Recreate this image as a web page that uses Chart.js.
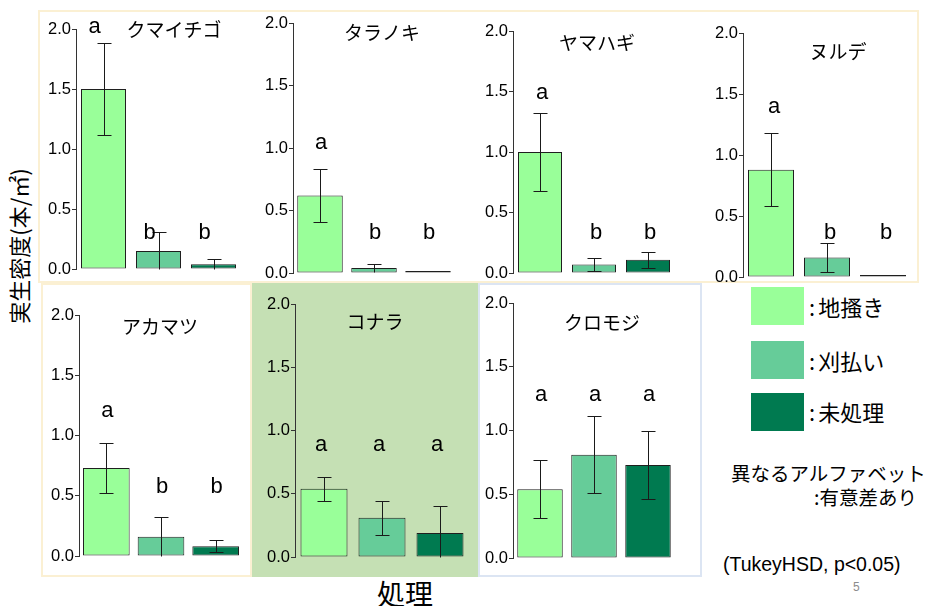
<!DOCTYPE html>
<html lang="ja">
<head>
<meta charset="utf-8">
<script src="https://cdn.jsdelivr.net/npm/chart.js@4.4.1/dist/chart.umd.min.js"></script>
<style>
  html, body { margin: 0; padding: 0; background: #ffffff; }
  body { width: 930px; height: 606px; position: relative; overflow: hidden;
         font-family: "Noto Sans CJK JP", "Liberation Sans", sans-serif; color: #000; }
  .abs { position: absolute; }
  .frame-top { left: 38px; top: 10px; width: 877px; height: 269px; border: 2px solid #fbf0d3; }
  .frame-bl  { left: 41px; top: 283px; width: 207px; height: 290px; border: 2px solid #fbf0d3; }
  .bg-konara { left: 252px; top: 283px; width: 226px; height: 294px; background: #c5e0b4; }
  .frame-kuromoji { left: 478px; top: 283px; width: 220px; height: 290px; border: 2px solid #dce5f3; }
  canvas.panel { position: absolute; }
  .swatch { position: absolute; left: 751px; width: 53px; height: 38px; }
  .legend-text { position: absolute; left: 809px; font-size: 22px; line-height: 24px; white-space: nowrap; }
  .legend-text .colon { margin-right: 3px; }
  .note { position: absolute; font-size: 19.5px; line-height: 24px; white-space: nowrap; }
  .tukey { position: absolute; left: 723px; top: 552px; font-family: "Liberation Sans", sans-serif;
           font-size: 19.5px; line-height: 24px; white-space: nowrap; }
  .page-no { position: absolute; left: 853px; top: 580px; font-family: "Liberation Sans", sans-serif;
             font-size: 12px; color: #8c8c8c; }
  .ytitle { position: absolute; left: 18px; top: 246px; font-size: 22px; white-space: nowrap;
            transform: translate(-50%, -50%) rotate(-90deg); }
  .xtitle { position: absolute; left: 405px; top: 593px; font-size: 28px; white-space: nowrap;
            transform: translate(-50%, -50%); }
</style>
</head>
<body>
<div class="abs frame-top"></div>
<div class="abs frame-bl"></div>
<div class="abs bg-konara"></div>
<div class="abs frame-kuromoji"></div>

<div class="ytitle">実生密度(本/㎡)</div>
<div class="xtitle">処理</div>

<div id="sw0" class="swatch" style="top:287px"></div>
<div id="sw1" class="swatch" style="top:341px"></div>
<div id="sw2" class="swatch" style="top:393px"></div>
<div id="lg0" class="legend-text" style="top:294px"></div>
<div id="lg1" class="legend-text" style="top:348px"></div>
<div id="lg2" class="legend-text" style="top:399px"></div>

<div class="note" style="left:731px; top:461px">異なるアルファベット</div>
<div class="note" style="left:814px; top:485px">:有意差あり</div>
<div class="tukey">(TukeyHSD, p&lt;0.05)</div>
<div class="page-no">5</div>

<script>
// Treatments (x categories) and species (one panel each)
const treatments = ['地搔き', '刈払い', '未処理'];
const species = ['クマイチゴ', 'タラノキ', 'ヤマハギ', 'ヌルデ', 'アカマツ', 'コナラ', 'クロモジ'];

// Mean seedling density (本/㎡) per treatment, in species order
const meanJikaki    = [1.50, 0.62, 1.00, 0.88, 0.73, 0.54, 0.54];
const meanKaribarai = [0.15, 0.04, 0.07, 0.16, 0.16, 0.31, 0.81];
const meanMishori   = [0.04, 0.00, 0.11, 0.00, 0.08, 0.19, 0.73];

// Standard errors
const seJikaki    = [0.38, 0.21, 0.32, 0.30, 0.21, 0.095, 0.225];
const seKaribarai = [0.16, 0.035, 0.055, 0.12, 0.16, 0.135, 0.30];
const seMishori   = [0.04, 0.00, 0.065, 0.00, 0.05, 0.21, 0.27];

// Tukey HSD groupings
const groupJikaki    = ['a', 'a', 'a', 'a', 'a', 'a', 'a'];
const groupKaribarai = ['b', 'b', 'b', 'b', 'b', 'a', 'a'];
const groupMishori   = ['b', 'b', 'b', 'b', 'b', 'a', 'a'];

// Y axis ticks
const yTicks = [0, 0.5, 1.0, 1.5, 2.0];

const fills = ['#99ff99', '#66cc99', '#007a50'];

// Page placement of each panel: y-axis x, pixel rows for 2.0 and 0.0,
// category width, bar width, title centre, rows for the group letters.
const panelLayout = [
  { x: 76,  top: 29,  bottom: 269, cat: 55.0, bar: 45,   title: [174, 30], aY: 27,  bY: 233, dx: -9 },
  { x: 293, top: 23,  bottom: 273, cat: 54.0, bar: 45.5, title: [382, 33], aY: 143, bY: 233, dx: 1 },
  { x: 513, top: 31,  bottom: 273, cat: 54.0, bar: 44,   title: [597, 43], aY: 93,  bY: 233, dx: 2 },
  { x: 743, top: 33,  bottom: 277, cat: 56.0, bar: 46,   title: [838, 52], aY: 107, bY: 233, dx: 3 },
  { x: 79,  top: 315, bottom: 556, cat: 54.5, bar: 46.5, title: [160, 327], aY: 411, bY: 487, dx: 1 },
  { x: 295, top: 304, bottom: 557, cat: 58.0, bar: 47,   title: [375, 322], aY: 445, bY: 445, dx: -3 },
  { x: 513, top: 303, bottom: 558, cat: 54.0, bar: 45.5, title: [602, 323], aY: 395, bY: 395, dx: 1 }
];

const AXIS_W = 44, PAD_T = 26, PAD_B = 12, PAD_R = 4;

// legend swatches and labels
treatments.forEach((t, i) => {
  document.getElementById('sw' + i).style.background = fills[i];
  const el = document.getElementById('lg' + i);
  const c = document.createElement('span');
  c.className = 'colon';
  c.textContent = ':';
  el.appendChild(c);
  el.appendChild(document.createTextNode(t));
});

// Error bars, group letters and species title
const panelDecor = {
  id: 'panelDecor',
  afterDatasetsDraw(chart, args, opts) {
    const ctx = chart.ctx;
    const y = chart.scales.y;
    const meta = chart.getDatasetMeta(0);
    ctx.save();
    ctx.strokeStyle = '#1a1a1a';
    ctx.lineWidth = 1;
    meta.data.forEach((el, i) => {
      const m = opts.means[i], s = opts.se[i];
      if (s <= 0) return;
      const cx = Math.round(el.x) + 0.5;
      const yt = Math.round(y.getPixelForValue(m + s)) + 0.5;
      const lowVal = m - s;
      const yb = Math.round(y.getPixelForValue(Math.max(0, lowVal))) + 0.5;
      const cap = 7;
      ctx.beginPath();
      ctx.moveTo(cx, yt); ctx.lineTo(cx, yb);
      ctx.moveTo(cx - cap, yt); ctx.lineTo(cx + cap, yt);
      if (lowVal > 0.005) { ctx.moveTo(cx - cap, yb); ctx.lineTo(cx + cap, yb); }
      ctx.stroke();
    });
    // group letters
    ctx.fillStyle = '#000';
    ctx.font = '22px "Liberation Sans", Arial, sans-serif';
    ctx.textAlign = 'center';
    ctx.textBaseline = 'middle';
    const L = opts.layout;
    meta.data.forEach((el, i) => {
      const g = opts.groups[i];
      const row = (g === 'a' ? L.aY : L.bY) - opts.originY;
      ctx.fillText(g, el.x + L.dx, row);
    });
    // species title
    ctx.font = '19px "Noto Sans CJK JP", sans-serif';
    ctx.fillText(opts.title, L.title[0] - opts.originX, L.title[1] - opts.originY);
    ctx.restore();
  }
};

species.forEach((name, k) => {
  const L = panelLayout[k];
  const canvas = document.createElement('canvas');
  canvas.className = 'panel';
  const w = Math.round(AXIS_W + 3 * L.cat + PAD_R);
  const h = Math.round(L.bottom - L.top + PAD_T + PAD_B);
  const left = L.x - AXIS_W, topPx = L.top - PAD_T;
  canvas.width = w; canvas.height = h;
  canvas.style.left = left + 'px';
  canvas.style.top = topPx + 'px';
  canvas.style.width = w + 'px';
  canvas.style.height = h + 'px';
  document.body.appendChild(canvas);

  const means = [meanJikaki[k], meanKaribarai[k], meanMishori[k]];
  const se = [seJikaki[k], seKaribarai[k], seMishori[k]];
  const groups = [groupJikaki[k], groupKaribarai[k], groupMishori[k]];

  new Chart(canvas.getContext('2d'), {
    type: 'bar',
    data: {
      labels: treatments,
      datasets: [{
        data: means,
        backgroundColor: fills,
        borderColor: '#1f1f1f',
        borderWidth: 1,
        borderSkipped: false,
        minBarLength: 2,
        barPercentage: L.bar / L.cat,
        categoryPercentage: 1
      }]
    },
    options: {
      responsive: false,
      animation: false,
      devicePixelRatio: 1,
      layout: { padding: { top: PAD_T, bottom: PAD_B, left: 0, right: PAD_R } },
      scales: {
        x: { display: false },
        y: {
          min: 0, max: 2,
          afterBuildTicks: s => { s.ticks = yTicks.map(v => ({ value: v })); },
          afterFit: s => { s.width = AXIS_W; },
          ticks: {
            callback: v => Number(v).toFixed(1),
            color: '#000',
            padding: 1,
            font: { family: '"Liberation Sans", Arial, sans-serif', size: 16.5 }
          },
          grid: { drawOnChartArea: false, drawTicks: true, tickLength: 4, color: '#333' },
          border: { display: true, color: '#333', width: 1 }
        }
      },
      plugins: {
        legend: { display: false },
        tooltip: { enabled: false },
        title: { display: false },
        panelDecor: { means, se, groups, title: name, layout: L, originX: left, originY: topPx }
      }
    },
    plugins: [panelDecor]
  });
});
</script>
</body>
</html>
